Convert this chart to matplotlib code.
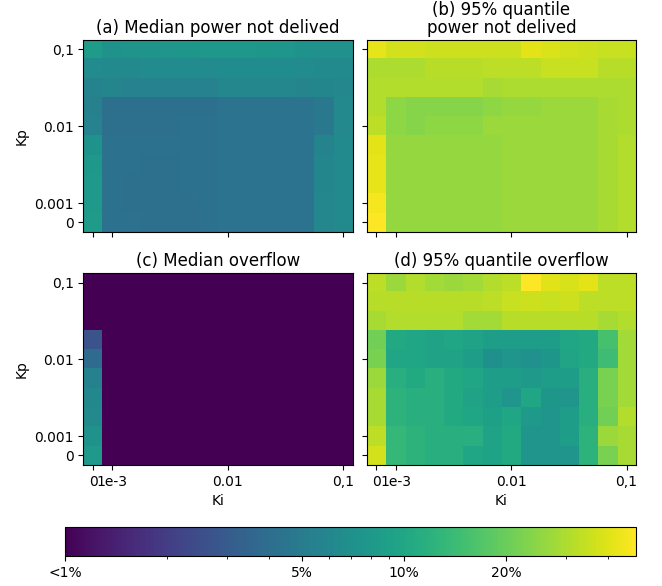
import numpy as np
import matplotlib
matplotlib.use("Agg")
import matplotlib.pyplot as plt
from matplotlib.colors import LogNorm
from matplotlib.ticker import NullFormatter

# Axis labels of the grid (Ki along x, Kp along y, rows from top to bottom)
ki_tick_pos = [0, 1, 7, 13]
ki_tick_labels = ['0', '1e-3', '0.01', '0,1']
kp_tick_pos = [0, 4, 8, 9]
kp_tick_labels = ['0,1', '0.01', '0.001', '0']

titles = ['(a) Median power not delived',
          '(b) 95% quantile\npower not delived',
          '(c) Median overflow',
          '(d) 95% quantile overflow']

# values in percent, rows = Kp (0.1 at top ... 0 at bottom), cols = Ki (0 ... 0.1)
median_power = [
    [8.4, 7.3, 7.4, 7.4, 7.5, 7.8, 7.9, 7.9, 7.9, 7.8, 7.7, 7.2, 7.1, 7.1],
    [6.5, 6.4, 6.4, 6.5, 6.5, 6.5, 6.5, 6.6, 6.6, 6.6, 6.6, 6.5, 6.4, 6.4],
    [5.7, 5.8, 5.6, 5.6, 5.6, 5.6, 5.6, 6.0, 6.0, 6.0, 6.0, 5.8, 5.9, 6.0],
    [5.4, 4.2, 4.2, 4.2, 4.2, 4.2, 4.2, 4.4, 4.4, 4.4, 4.4, 4.4, 4.7, 6.2],
    [5.6, 4.2, 4.2, 4.2, 4.2, 4.3, 4.3, 4.4, 4.4, 4.4, 4.4, 4.4, 4.7, 6.2],
    [7.3, 4.3, 4.3, 4.3, 4.3, 4.3, 4.3, 4.4, 4.4, 4.4, 4.4, 4.4, 5.7, 6.3],
    [7.9, 4.3, 4.3, 4.2, 4.2, 4.3, 4.3, 4.4, 4.4, 4.4, 4.4, 4.4, 5.9, 6.4],
    [8.0, 4.3, 4.2, 4.2, 4.2, 4.3, 4.3, 4.4, 4.4, 4.4, 4.4, 4.4, 5.9, 6.4],
    [8.2, 4.3, 4.2, 4.2, 4.2, 4.2, 4.3, 4.4, 4.4, 4.4, 4.4, 4.4, 6.0, 6.4],
    [8.4, 4.3, 4.3, 4.2, 4.2, 4.2, 4.3, 4.4, 4.4, 4.4, 4.4, 4.4, 6.0, 6.4],
]

q95_power = [
    [42, 37, 37, 36, 36, 36, 36, 36, 41, 39, 37, 36, 35, 35],
    [30, 30, 30, 32, 32, 32, 33, 33, 33, 35, 35, 35, 32, 32],
    [31, 31, 31, 31, 31, 31, 29, 30, 30, 30, 30, 30, 30, 30],
    [31, 25, 24, 24, 24, 24, 25, 26, 26, 27, 27, 27, 29, 30],
    [33, 25, 24, 25, 25, 25, 27, 27, 27, 27, 27, 27, 29, 30],
    [41, 26, 26, 26, 26, 26, 26, 27, 27, 27, 27, 27, 29, 31],
    [42, 26, 26, 26, 26, 26, 26, 27, 27, 27, 27, 27, 29, 31],
    [42, 26, 26, 26, 26, 26, 26, 27, 27, 27, 27, 27, 29, 31],
    [46, 26, 26, 26, 26, 26, 26, 27, 27, 27, 27, 27, 29, 31],
    [48, 26, 26, 26, 26, 26, 26, 27, 27, 27, 27, 27, 29, 31],
]

# 0.5 means "below 1%"
median_overflow = [
    [0.5] * 14,
    [0.5] * 14,
    [0.5] * 14,
    [2.7] + [0.5] * 13,
    [3.9] + [0.5] * 13,
    [5.5] + [0.5] * 13,
    [6.1] + [0.5] * 13,
    [6.4] + [0.5] * 13,
    [7.3] + [0.5] * 13,
    [8.0] + [0.5] * 13,
]

q95_overflow = [
    [33, 27, 31, 28, 27, 28, 31, 33, 48, 40, 38, 41, 33, 33],
    [32, 32, 32, 32, 32, 32, 33, 35, 36, 35, 36, 33, 33, 33],
    [29, 31, 31, 31, 31, 28, 28, 32, 32, 32, 32, 32, 29, 31],
    [21, 10.6, 9.8, 9.3, 9.8, 9.3, 8.6, 8.6, 8.6, 8.6, 9.8, 10.6, 15.7, 28],
    [22, 9.8, 9.8, 9.3, 9.3, 8.6, 7.0, 7.5, 7.1, 7.8, 9.6, 10.6, 14.5, 28],
    [27, 11.5, 10.6, 11.5, 10.6, 9.8, 8.6, 8.6, 8.1, 8.6, 8.6, 11.5, 22, 28],
    [29, 12.2, 11.5, 11.5, 10.6, 9.3, 8.6, 7.6, 9.8, 7.8, 7.6, 11.5, 22, 28],
    [29, 12.2, 11.5, 11.5, 10.6, 9.8, 9.0, 9.8, 8.1, 7.5, 8.6, 11.5, 21, 31],
    [33, 13.3, 12.2, 11.5, 11.5, 11.5, 9.3, 10.6, 7.6, 7.6, 8.6, 12.2, 27, 29],
    [37, 13.3, 12.2, 11.5, 11.5, 9.8, 9.5, 10.6, 7.5, 7.5, 7.5, 12.2, 22, 29],
]

cbar_ticks = [1, 5, 10, 20]
cbar_labels = ['<1%', '5%', '10%', '20%']


def plot_maps():
    fig, axes = plt.subplots(2, 2, sharex=True, sharey=True, figsize=(6.62, 5.86), dpi=100)
    fig.subplots_adjust(left=0.126, right=0.961, top=0.932, bottom=0.2065,
                        wspace=0.052, hspace=0.214)
    norm = LogNorm(vmin=1, vmax=48.3)
    grids = [median_power, q95_power, median_overflow, q95_overflow]
    for ax, grid, title in zip(axes.flat, grids, titles):
        im = ax.imshow(np.array(grid), cmap='viridis', norm=norm,
                       aspect='auto', interpolation='nearest')
        ax.set_title(title, fontsize=12, linespacing=1.0, pad=5)
    for ax in axes[1, :]:
        ax.set_xticks(ki_tick_pos)
        ax.set_xticklabels(ki_tick_labels, fontsize=10)
        ax.set_xlabel('Ki', fontsize=10)
    for ax in axes[:, 0]:
        ax.set_yticks(kp_tick_pos)
        ax.set_yticklabels(kp_tick_labels, fontsize=10)
        ax.set_ylabel('Kp', fontsize=10)

    cax = fig.add_axes([0.098, 0.0512, 0.8627, 0.0495])
    cbar = fig.colorbar(im, cax=cax, orientation='horizontal')
    cbar.set_ticks(cbar_ticks)
    cbar.set_ticklabels(cbar_labels, fontsize=10)
    cax.xaxis.set_minor_formatter(NullFormatter())
    fig.savefig('out.png', dpi=100)


def main():
    plot_maps()


if __name__ == "__main__":
    main()
